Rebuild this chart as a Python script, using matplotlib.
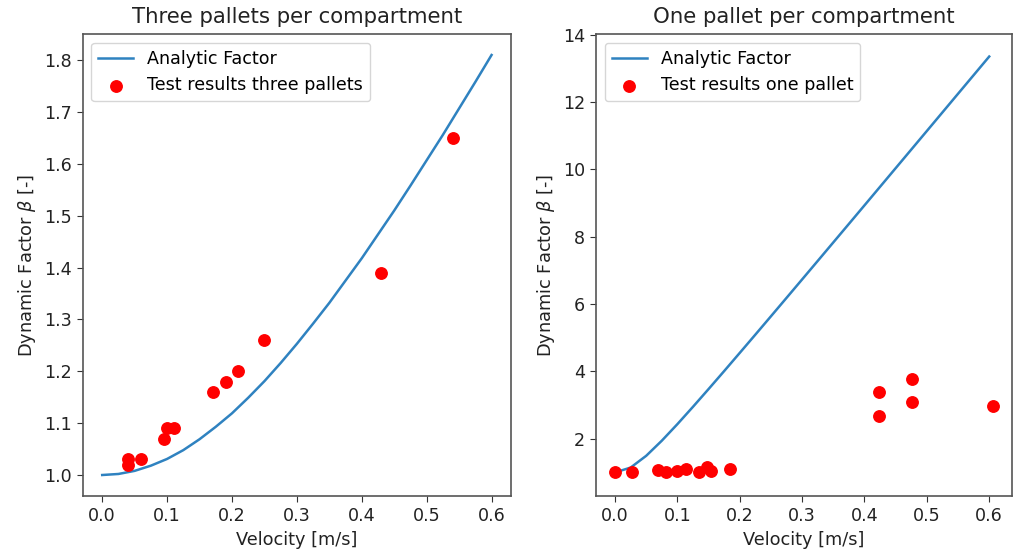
import matplotlib
matplotlib.use("Agg")
import matplotlib.pyplot as plt

# Analytic dynamic factor, tabulated against velocity [m/s]
velocity_curve = [0.000, 0.025, 0.050, 0.075, 0.100, 0.125, 0.150, 0.175, 0.200,
                  0.225, 0.250, 0.275, 0.300, 0.325, 0.350, 0.375, 0.400, 0.425,
                  0.450, 0.475, 0.500, 0.525, 0.550, 0.575, 0.600]
beta_three = [1.000, 1.002, 1.008, 1.018, 1.031, 1.048, 1.069, 1.093, 1.119,
              1.149, 1.181, 1.216, 1.253, 1.292, 1.332, 1.375, 1.418, 1.464,
              1.510, 1.558, 1.607, 1.656, 1.707, 1.758, 1.810]
beta_one = [1.000, 1.144, 1.494, 1.942, 2.434, 2.949, 3.476, 4.010, 4.550,
            5.092, 5.637, 6.184, 6.732, 7.281, 7.831, 8.381, 8.932, 9.484,
            10.036, 10.588, 11.140, 11.693, 12.246, 12.798, 13.351]

# Measured results, three pallets per compartment
test_v_three = [0.04, 0.04, 0.06, 0.095, 0.10, 0.11, 0.17, 0.19, 0.21, 0.25, 0.43, 0.54]
test_b_three = [1.02, 1.03, 1.03, 1.07, 1.09, 1.09, 1.16, 1.18, 1.20, 1.26, 1.39, 1.65]

# Measured results, one pallet per compartment
test_v_one = [0.00, 0.027, 0.069, 0.082, 0.10, 0.114, 0.135, 0.147, 0.154, 0.184,
              0.424, 0.424, 0.476, 0.476, 0.606]
test_b_one = [1.02, 1.02, 1.07, 1.02, 1.04, 1.10, 1.02, 1.15, 1.04, 1.10,
              3.38, 2.68, 3.78, 3.08, 2.98]

plt.rcParams["font.family"] = ["DejaVu Sans"]
TICK_FS = 12.6
LABEL_FS = 12.8
TITLE_FS = 15.3

fig = plt.figure(figsize=(10.19, 5.51), dpi=100)
ax1 = fig.add_axes([0.0812, 0.0998, 0.4203, 0.8385])
ax2 = fig.add_axes([0.585, 0.0998, 0.408, 0.8385])

panels = [
    (ax1, beta_three, test_v_three, test_b_three,
     "Test results three pallets", "Three pallets per compartment"),
    (ax2, beta_one, test_v_one, test_b_one,
     "Test results one pallet", "One pallet per compartment"),
]

for ax, beta, tv, tb, test_label, title in panels:
    ax.plot(velocity_curve, beta, color="#2f82c0", linewidth=1.8, label="Analytic Factor")
    ax.scatter(tv, tb, color="red", s=68, zorder=3, label=test_label)
    ax.set_title(title, fontsize=TITLE_FS, pad=8, color="#222222")
    ax.set_xlabel("Velocity [m/s]", fontsize=LABEL_FS, color="#222222")
    ax.set_ylabel(r"Dynamic Factor $\beta$ [-]", fontsize=LABEL_FS, color="#222222")
    ax.set_xticks([0.0, 0.1, 0.2, 0.3, 0.4, 0.5, 0.6])
    ax.tick_params(labelsize=TICK_FS, color="#333333", labelcolor="#222222", length=4.5)
    for sp in ax.spines.values():
        sp.set_color("#555555")
        sp.set_linewidth(1.2)
    ax.legend(loc="upper left", fontsize=TICK_FS, scatterpoints=1)

ax2.set_ylim(0.3, 14.02)

fig.savefig("out.png", dpi=100)
